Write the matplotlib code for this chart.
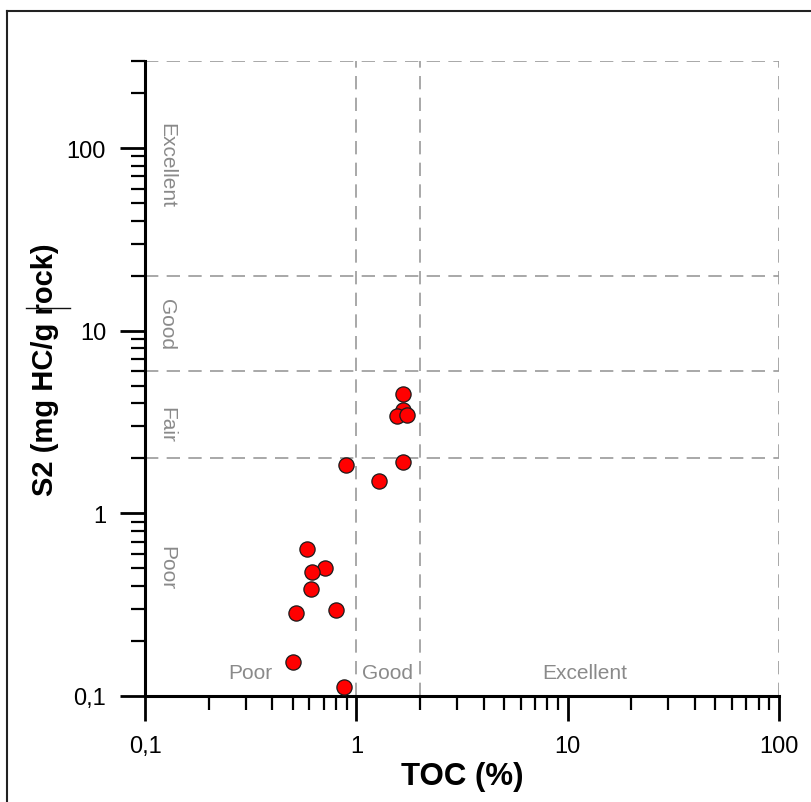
import matplotlib
matplotlib.use("Agg")
import matplotlib.pyplot as plt
from matplotlib.ticker import LogLocator, FixedLocator, FuncFormatter, NullFormatter
from matplotlib.lines import Line2D

plt.rcParams['font.family'] = ['Liberation Sans', 'DejaVu Sans']

# Data (TOC %, S2 mg HC/g rock)
toc = [1.66, 1.67, 1.56, 1.74, 1.66, 0.89, 1.28, 0.585, 0.71, 0.62, 0.61, 0.52, 0.80, 0.50, 0.875]
s2 = [4.53, 3.66, 3.43, 3.46, 1.92, 1.83, 1.51, 0.636, 0.50, 0.48, 0.385, 0.284, 0.295, 0.153, 0.112]

x_ticks = [0.1, 1, 10, 100]
x_tick_labels = ["0,1", "1", "10", "100"]
y_ticks = [0.1, 1, 10, 100]
y_tick_labels = ["0,1", "1", "10", "100"]

x_bounds = [1, 2, 100]
y_bounds = [2, 6, 20, 300]

y_classes = ["Excellent", "Good", "Fair", "Poor"]
x_classes = ["Poor", "Good", "Excellent"]

W, H = 811, 803
fig = plt.figure(figsize=(W / 100, H / 100), dpi=100)
ax = fig.add_axes([145 / W, 1 - 697 / H, (779 - 145) / W, (697 - 62) / H])

ax.set_xscale('log')
ax.set_yscale('log')
ax.set_xlim(0.1, 100)
ax.set_ylim(0.1, 300)

dash = (0, (8, 5))
gray = '#9a9a9a'
for xb in x_bounds:
    ax.axvline(xb, color=gray, lw=1.2, linestyle=dash, zorder=1)
for yb in y_bounds:
    ax.axhline(yb, color=gray, lw=1.2, linestyle=dash, zorder=1)

ax.scatter(toc, s2, s=120, c='#ff0000', edgecolors='#1a1a1a', linewidths=0.9, zorder=5, clip_on=False)

for side in ['top', 'right']:
    ax.spines[side].set_visible(False)
for side in ['left', 'bottom']:
    ax.spines[side].set_linewidth(2.2)
    ax.spines[side].set_color('black')

ax.xaxis.set_major_locator(FixedLocator(x_ticks))
ax.xaxis.set_major_formatter(FuncFormatter(lambda v, p: x_tick_labels[x_ticks.index(v)] if v in x_ticks else ""))
ax.yaxis.set_major_locator(FixedLocator(y_ticks))
ax.yaxis.set_major_formatter(FuncFormatter(lambda v, p: y_tick_labels[y_ticks.index(v)] if v in y_ticks else ""))
ax.xaxis.set_minor_locator(LogLocator(base=10, subs=range(2, 10)))
ax.yaxis.set_minor_locator(LogLocator(base=10, subs=range(2, 10)))
ax.xaxis.set_minor_formatter(NullFormatter())
ax.yaxis.set_minor_formatter(NullFormatter())

ax.tick_params(which='major', direction='out', length=18, width=2.0, labelsize=17, pad=10, color='black')
ax.tick_params(which='minor', direction='out', length=10, width=1.6, color='black')

ax.set_xlabel('TOC (%)', fontsize=22.5, fontweight='bold')
ax.xaxis.set_label_coords(0.5, (697 - 777) / 635, transform=ax.transAxes)
ax.xaxis.label.set_va('center')
ax.set_ylabel('S2 (mg HC/g rock)', fontsize=21, fontweight='bold')
ax.yaxis.set_label_coords((45 - 145) / 634, (697 - 370) / 635, transform=ax.transAxes)
ax.yaxis.label.set_va('center')

label_color = '#8a8a8a'
y_label_pos = [81.8, 10.9, 3.1, 0.51]
for name, yv in zip(y_classes, y_label_pos):
    ax.text(0.127, yv, name, rotation=-90, ha='center', va='center', fontsize=15, color=label_color, zorder=2)
x_label_pos = [0.314, 1.41, 12.1]
for name, xv in zip(x_classes, x_label_pos):
    ax.text(xv, 0.135, name, ha='center', va='center', fontsize=15, color=label_color, zorder=2)

# stray stroke over the y label, as in the source image
fig.add_artist(Line2D([26 / W, 70 / W], [1 - 309 / H, 1 - 309 / H],
                      transform=fig.transFigure, color='#111111', lw=1.0))

# figure frame
fig.add_artist(Line2D([7 / W, 7 / W], [0, 1 - 11.5 / H], transform=fig.transFigure, color='#222222', lw=1.5))
fig.add_artist(Line2D([7 / W, 1], [1 - 11.5 / H, 1 - 11.5 / H], transform=fig.transFigure, color='#222222', lw=1.5))

fig.savefig('out.png', dpi=100)
